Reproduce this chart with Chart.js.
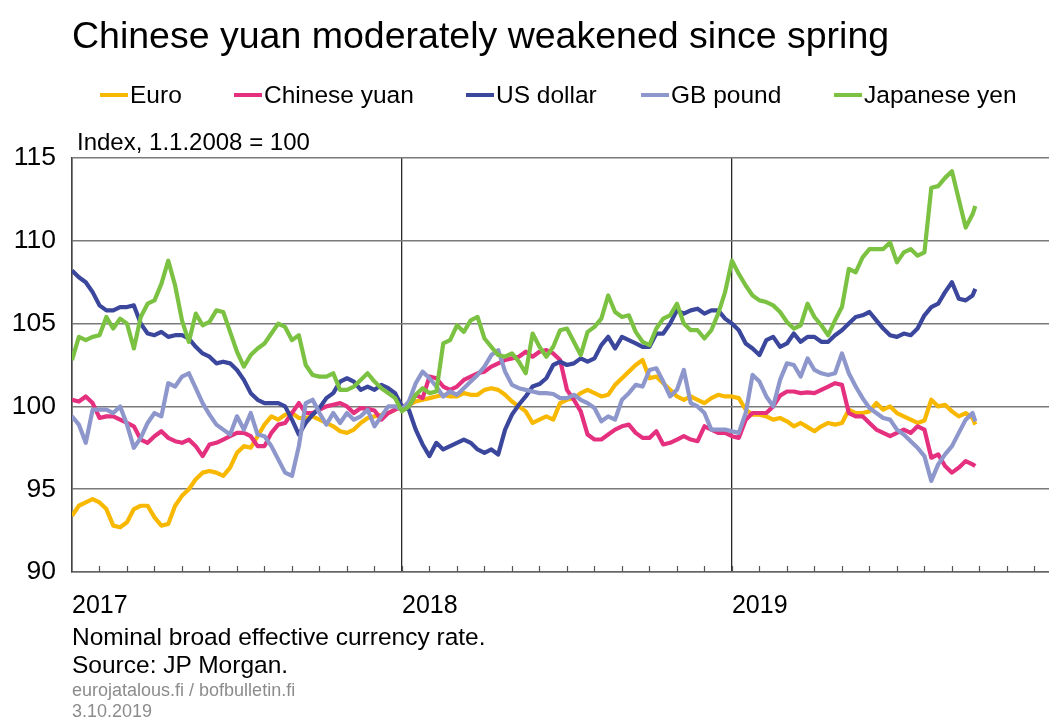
<!DOCTYPE html>
<html>
<head>
<meta charset="utf-8">
<script src="https://cdn.jsdelivr.net/npm/chart.js@4.4.0/dist/chart.umd.min.js"></script>
<style>
  body { margin: 0; background: #fff; font-family: "Liberation Sans", Arial, sans-serif; }
  #wrap { position: relative; width: 1049px; height: 720px; overflow: hidden; }
  #chart { position: absolute; left: 0; top: 0; }
  .txt { position: absolute; white-space: nowrap; color: #000; line-height: 1; }
  .key { position: absolute; top: 83px; font-size: 24.5px; line-height: 1; white-space: nowrap; }
  .key i { position: absolute; top: 10px; height: 4px; width: 28px; left: -30px; }
</style>
</head>
<body>
<div id="wrap">
  <canvas id="chart" width="1049" height="720"></canvas>
  <div class="txt" style="left:72px;top:17px;font-size:37.5px">Chinese yuan moderately weakened since spring</div>
  <div id="legend"></div>
  <div class="txt" style="left:77px;top:130px;font-size:24px">Index, 1.1.2008 = 100</div>
  <div class="txt" style="left:72px;top:625px;font-size:24.5px">Nominal broad effective currency rate.</div>
  <div class="txt" style="left:72px;top:653px;font-size:24.5px">Source: JP Morgan.</div>
  <div class="txt" style="left:72px;top:681px;font-size:18px;color:#8c8c8c">eurojatalous.fi / bofbulletin.fi</div>
  <div class="txt" style="left:72px;top:702px;font-size:18px;color:#8c8c8c">3.10.2019</div>
</div>
<script>
// months since 1.1.2017, one row = three months
const months = [
  0, 0.25, 0.5, 0.75, 1, 1.25, 1.5, 1.75, 2, 2.25, 2.5, 2.75,
  3, 3.25, 3.5, 3.75, 4, 4.25, 4.5, 4.75, 5, 5.25, 5.5, 5.75,
  6, 6.25, 6.5, 6.75, 7, 7.25, 7.5, 7.75, 8, 8.25, 8.5, 8.75,
  9, 9.25, 9.5, 9.75, 10, 10.25, 10.5, 10.75, 11, 11.25, 11.5, 11.75,
  12, 12.25, 12.5, 12.75, 13, 13.25, 13.5, 13.75, 14, 14.25, 14.5, 14.75,
  15, 15.25, 15.5, 15.75, 16, 16.25, 16.5, 16.75, 17, 17.25, 17.5, 17.75,
  18, 18.25, 18.5, 18.75, 19, 19.25, 19.5, 19.75, 20, 20.25, 20.5, 20.75,
  21, 21.25, 21.5, 21.75, 22, 22.25, 22.5, 22.75, 23, 23.25, 23.5, 23.75,
  24, 24.25, 24.5, 24.75, 25, 25.25, 25.5, 25.75, 26, 26.25, 26.5, 26.75,
  27, 27.25, 27.5, 27.75, 28, 28.25, 28.5, 28.75, 29, 29.25, 29.5, 29.75,
  30, 30.25, 30.5, 30.75, 31, 31.25, 31.5, 31.75, 32, 32.25, 32.5, 32.75,
  32.85];

const euro = [
  93.4, 94.0, 94.2, 94.4, 94.2, 93.8, 92.8, 92.7, 93.0, 93.8, 94.0, 94.0,
  93.3, 92.8, 92.9, 94.0, 94.6, 95.0, 95.6, 96.0, 96.1, 96.0, 95.8, 96.3,
  97.2, 97.6, 97.5, 98.2, 98.9, 99.4, 99.2, 99.5, 99.6, 99.3, 99.3, 99.4,
  99.2, 99.0, 98.8, 98.5, 98.4, 98.6, 99.0, 99.3, 99.4, 99.5, 99.6, 99.8,
  100.0, 100.1, 100.3, 100.4, 100.5, 100.6, 100.7, 100.6, 100.6, 100.8, 100.7, 100.7,
  101.0, 101.1, 101.0, 100.7, 100.3, 100.0, 99.7, 99.0, 99.2, 99.4, 99.2, 100.2,
  100.4, 100.5, 100.8, 101.0, 100.8, 100.6, 100.7, 101.3, 101.7, 102.1, 102.5, 102.8,
  101.7, 101.8, 101.4, 101.0, 100.6, 100.4, 100.6, 100.4, 100.2, 100.5, 100.7, 100.6,
  100.6, 100.5, 99.8, 99.5, 99.5, 99.4, 99.2, 99.3, 99.1, 98.8, 99.0, 98.75,
  98.5, 98.8, 99.0, 98.9, 99.0, 99.8, 99.6, 99.6, 99.7, 100.2, 99.8, 100.0,
  99.6, 99.4, 99.2, 99.0, 99.15, 100.4, 100.0, 100.1, 99.7, 99.4, 99.6, 99.3,
  98.9];

const yuan = [
  100.4, 100.3, 100.6, 100.2, 99.3, 99.4, 99.4, 99.2, 99.0, 98.8, 98.0, 97.8,
  98.2, 98.5, 98.1, 97.9, 97.8, 98.0, 97.6, 97.0, 97.7, 97.8, 98.0, 98.2,
  98.4, 98.4, 98.2, 97.6, 97.6, 98.4, 98.9, 99.0, 99.6, 100.2, 99.6, 99.6,
  99.8, 100.0, 100.1, 100.2, 100.0, 99.6, 99.9, 99.85, 99.75, 99.2, 99.6, 99.8,
  100.0, 100.0, 100.7, 100.5, 101.8, 101.7, 101.2, 101.0, 101.2, 101.6, 101.8, 102.0,
  102.1, 102.4, 102.6, 102.8, 102.9, 103.0, 103.3, 103.0, 103.3, 103.4, 103.2, 102.8,
  101.0, 100.4, 99.7, 98.3, 98.0, 98.0, 98.3, 98.6, 98.8, 98.9, 98.4, 98.1,
  98.1, 98.5, 97.7, 97.8, 98.0, 98.2, 98.0, 97.9, 98.8, 98.6, 98.4, 98.4,
  98.2, 98.1, 99.2, 99.6, 99.6, 99.6, 100.0, 100.65, 100.9, 100.9, 100.8, 100.85,
  100.8, 101.0, 101.2, 101.4, 101.3, 99.6, 99.4, 99.4, 99.0, 98.6, 98.4, 98.2,
  98.4, 98.6, 98.4, 98.8, 98.6, 96.9, 97.1, 96.4, 96.0, 96.3, 96.7, 96.5,
  96.4];

const usd = [
  108.2, 107.8, 107.5, 106.9, 106.1, 105.8, 105.8, 106.0, 106.0, 106.1, 105.0, 104.4,
  104.3, 104.5, 104.2, 104.3, 104.3, 104.1, 103.6, 103.2, 103.0, 102.6, 102.7, 102.6,
  102.2, 101.6, 100.8, 100.4, 100.2, 100.2, 100.2, 100.0, 99.2, 98.3, 99.0, 99.5,
  99.9, 100.5, 100.8, 101.5, 101.7, 101.5, 101.0, 101.2, 101.0, 101.3, 101.1, 100.8,
  100.0, 99.8, 98.6, 97.7, 97.0, 97.8, 97.4, 97.6, 97.8, 98.0, 97.8, 97.4,
  97.2, 97.4, 97.1, 98.6, 99.5, 100.1, 100.6, 101.2, 101.35, 101.7, 102.5, 102.7,
  102.5, 102.6, 102.9, 102.7, 102.9, 103.7, 104.2, 103.5, 104.2, 104.0, 103.8, 103.6,
  103.6, 104.4, 104.4, 105.0, 105.8, 105.6, 105.8, 105.9, 105.6, 105.8, 105.8, 105.3,
  105.0, 104.6, 103.8, 103.5, 103.1, 104.0, 104.2, 103.6, 103.8, 104.4, 103.9, 104.2,
  104.2, 103.9, 103.9, 104.3, 104.6, 105.0, 105.4, 105.5, 105.7, 105.2, 104.7, 104.3,
  104.2, 104.4, 104.3, 104.7, 105.5, 106.0, 106.2, 106.9, 107.5, 106.5, 106.4, 106.7,
  107.1];

const gbp = [
  99.4, 98.9, 97.8, 99.8, 99.8, 99.8, 99.6, 100.0, 98.9, 97.5, 98.1, 99.0,
  99.6, 99.4, 101.4, 101.2, 101.8, 102.0, 101.1, 100.2, 99.5, 98.9, 98.6, 98.3,
  99.4, 98.6, 99.6, 98.3, 98.2, 97.6, 96.8, 96.0, 95.8, 97.6, 100.2, 100.4,
  99.6, 98.9, 99.6, 99.0, 99.6, 99.2, 99.4, 99.8, 98.8, 99.4, 100.0, 100.0,
  99.8, 100.3, 101.4, 102.1, 101.7, 101.2, 100.6, 100.9, 100.7, 101.1, 101.5, 101.9,
  102.4, 103.1, 103.4, 102.1, 101.3, 101.1, 101.0, 100.9, 100.8, 100.8, 100.75, 100.5,
  100.5, 100.7, 100.4, 100.2, 99.9, 99.1, 99.4, 99.2, 100.4, 100.8, 101.3, 101.2,
  102.2, 102.3, 101.5, 100.6, 101.0, 102.2, 100.2, 100.0, 99.6, 98.6, 98.6, 98.6,
  98.5, 98.4, 99.6, 101.9, 101.5, 100.6, 100.0, 101.6, 102.6, 102.5, 101.8, 102.9,
  102.2, 102.0, 101.9, 102.0, 103.2, 102.0, 101.2, 100.5, 99.9, 99.6, 99.3, 99.2,
  98.6, 98.3, 97.9, 97.5, 97.0, 95.5, 96.5, 97.1, 97.6, 98.4, 99.2, 99.6,
  99.1];

const jpy = [
  102.8, 104.2, 104.0, 104.2, 104.3, 105.4, 104.7, 105.3, 105.0, 103.5, 105.4, 106.2,
  106.4, 107.4, 108.8, 107.3, 105.2, 103.9, 105.6, 104.9, 105.1, 105.8, 105.7, 104.5,
  103.3, 102.4, 103.1, 103.5, 103.8, 104.4, 105.0, 104.8, 104.0, 104.3, 102.5, 101.9,
  101.8, 101.8, 102.0, 101.0, 101.0, 101.2, 101.6, 102.0, 101.5, 101.1, 100.8, 100.5,
  99.7, 100.0, 100.7, 101.1, 100.8, 100.9, 103.8, 104.0, 104.9, 104.5, 105.2, 105.4,
  104.1, 103.6, 103.1, 103.0, 103.2, 102.7, 102.0, 104.4, 103.6, 103.0, 103.6, 104.6,
  104.7, 103.9, 103.1, 104.5, 104.8, 105.3, 106.7, 105.7, 105.4, 105.5, 104.5, 103.9,
  103.7, 104.7, 105.3, 105.5, 106.2, 105.0, 104.6, 104.6, 104.1, 104.6, 105.6, 106.9,
  108.8, 108.0, 107.3, 106.7, 106.4, 106.3, 106.1, 105.7, 105.1, 104.7, 104.9, 106.2,
  105.4, 104.9, 104.3, 105.2, 106.0, 108.3, 108.1, 109.0, 109.5, 109.5, 109.5, 109.9,
  108.7, 109.3, 109.5, 109.1, 109.3, 113.2, 113.3, 113.8, 114.2, 112.5, 110.8, 111.6,
  112.1];

const seriesNames = ["Euro", "Chinese yuan", "US dollar", "GB pound", "Japanese yen"];
const seriesColors = ["#f9b800", "#e5307f", "#3b479c", "#8e97cc", "#7cc242"];
const seriesData = [euro, yuan, usd, gbp, jpy];
const yearLabels = ["2017", "2018", "2019"];
const legendLeft = [130, 264, 496, 671, 864];

// legend
const legend = document.getElementById("legend");
seriesNames.forEach((name, i) => {
  const d = document.createElement("div");
  d.className = "key";
  d.style.left = legendLeft[i] + "px";
  d.innerHTML = `<i style="background:${seriesColors[i]}"></i>${name}`;
  legend.appendChild(d);
});

// small month ticks pointing up from the bottom axis
const monthTicks = {
  id: "monthTicks",
  afterDraw(chart) {
    const x = chart.scales.x, ctx = chart.ctx, bottom = chart.chartArea.bottom;
    ctx.save();
    ctx.strokeStyle = "#555";
    ctx.lineWidth = 1.2;
    for (let m = 1; m < 36; m++) {
      const px = Math.round(x.getPixelForValue(m)) + 0.5;
      if (px > chart.chartArea.right) break;
      ctx.beginPath();
      ctx.moveTo(px, bottom);
      ctx.lineTo(px, bottom - 6);
      ctx.stroke();
    }
    ctx.restore();
  }
};

new Chart(document.getElementById("chart"), {
  type: "line",
  data: {
    datasets: seriesData.map((vals, i) => ({
      label: seriesNames[i],
      data: vals.map((v, k) => ({ x: months[k], y: v })),
      borderColor: seriesColors[i],
      borderWidth: 4.2,
      borderJoinStyle: "round",
      pointRadius: 0,
      tension: 0,
      order: seriesNames.length - i
    }))
  },
  options: {
    responsive: false,
    animation: false,
    devicePixelRatio: 1,
    layout: { padding: { top: 158, right: 0, bottom: 0, left: 0 } },
    plugins: { legend: { display: false }, tooltip: { enabled: false } },
    scales: {
      x: {
        type: "linear",
        min: 0,
        max: 35.53,
        afterFit: s => { s.height = 148; },
        ticks: {
          stepSize: 12,
          includeBounds: false,
          autoSkip: false,
          maxRotation: 0,
          align: "start",
          padding: 19,
          color: "#000",
          font: { family: "Liberation Sans", size: 25 },
          callback: v => yearLabels[v / 12] || ""
        },
        grid: { color: "#2a2a2a", lineWidth: 1.3, drawTicks: false },
        border: { color: "#666", width: 1.5 }
      },
      y: {
        min: 90,
        max: 115,
        afterFit: s => { s.width = 72; },
        ticks: {
          stepSize: 5,
          padding: 16,
          color: "#000",
          font: { family: "Liberation Sans", size: 26.5 }
        },
        grid: { color: "#7a7a7a", lineWidth: 1.5, drawTicks: false },
        border: { color: "#444", width: 1.5 }
      }
    }
  },
  plugins: [monthTicks]
});
</script>
</body>
</html>
